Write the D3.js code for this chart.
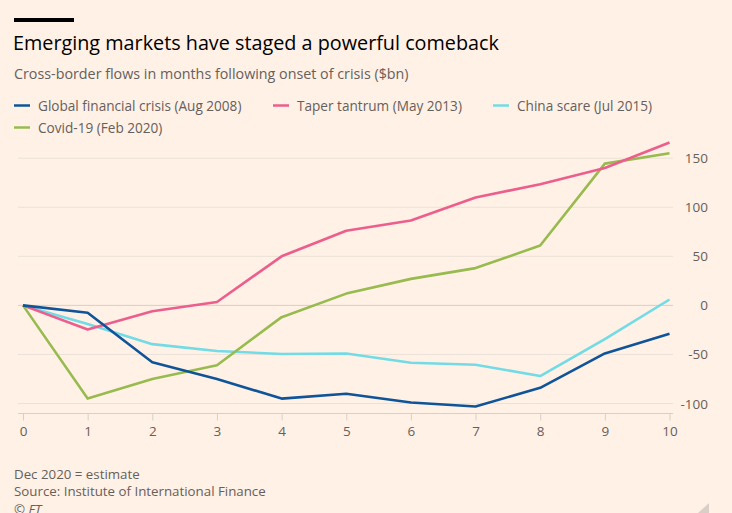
<!DOCTYPE html>
<html><head><meta charset="utf-8">
<script src="https://cdn.jsdelivr.net/npm/d3@7"></script>
<style>
html,body{margin:0;padding:0;background:#fff1e5;}
svg{display:block;}
</style></head>
<body>
<svg id="c" width="732" height="513"></svg>
<script>
const months = [0,1,2,3,4,5,6,7,8,9,10];
const gfc    = [0,-7.5,-58,-75,-95,-90,-99,-103,-84,-49,-29];
const taper  = [0,-24.5,-6,3.5,50,76,86.5,110,123.5,140,166];
const china  = [0,-19,-39.5,-46.5,-49.5,-49,-58.5,-60.5,-72,-34.5,6];
const covid  = [0,-95,-75,-61,-12,12,27,38,61,144.5,155];
const seriesNames = ["Global financial crisis (Aug 2008)","Taper tantrum (May 2013)","China scare (Jul 2015)","Covid-19 (Feb 2020)"];
const seriesColors = ["#0f5499","#eb5e8d","#72dbe6","#98bb4f"];
const yTicks = [-100,-50,0,50,100,150];
const xTicks = [0,1,2,3,4,5,6,7,8,9,10];

const svg = d3.select("#c");
const font = "'Open Sans', 'Noto Sans', sans-serif";

svg.append("rect").attr("x",0).attr("y",0).attr("width",732).attr("height",513).attr("fill","#fff1e5");
svg.append("rect").attr("x",14).attr("y",18).attr("width",60).attr("height",4).attr("fill","#000");
svg.append("text").attr("x",13).attr("y",50).text("Emerging markets have staged a powerful comeback")
  .attr("font-family",font).attr("font-size",19.8).attr("fill","#000");
svg.append("text").attr("x",14).attr("y",79).text("Cross-border flows in months following onset of crisis ($bn)")
  .attr("font-family",font).attr("font-size",14.3).attr("fill","#66605c");

const legendPos = [[14,106],[273,106],[493,106],[14,128]];
seriesNames.forEach((n,i)=>{
  const [lx,ly]=legendPos[i];
  svg.append("line").attr("x1",lx).attr("x2",lx+16).attr("y1",ly-0.5).attr("y2",ly-0.5)
    .attr("stroke",seriesColors[i]).attr("stroke-width",2.5);
  svg.append("text").attr("x",lx+24).attr("y",ly+5).text(n)
    .attr("font-family",font).attr("font-size",13.6).attr("fill","#66605c");
});

const x = d3.scaleLinear().domain([0,10]).range([23,669.5]);
const y = d3.scaleLinear().domain([-100,150]).range([403.5,158.2]);

const grid = svg.append("g");
yTicks.forEach(t=>{
  grid.append("line").attr("x1",18).attr("x2",673).attr("y1",y(t)).attr("y2",y(t))
    .attr("stroke", t===0 ? "#d9cfc6" : "#ebe1d8").attr("stroke-width",1);
  grid.append("text").attr("x",708).attr("y",y(t)+5).attr("text-anchor","end").text(t)
    .attr("font-family",font).attr("font-size",13.5).attr("fill","#66605c");
});

const xAxis = svg.append("g").attr("transform","translate(0,413.5)")
  .call(d3.axisBottom(x).tickValues(xTicks).tickSize(7).tickPadding(6).tickFormat(d3.format("d")));
xAxis.select(".domain").attr("d","M18,0H673").attr("stroke","#d9cfc6");
xAxis.selectAll(".tick line").attr("stroke","#d9cfc6");
xAxis.selectAll(".tick text").attr("font-family",font).attr("font-size",13.5).attr("fill","#66605c");

const line = d3.line().x((d,i)=>x(months[i])).y(d=>y(d));
const data = [gfc,taper,china,covid];
const order = [2,3,1,0];
order.forEach(i=>{
  svg.append("path").datum(data[i]).attr("d",line).attr("fill","none")
    .attr("stroke",seriesColors[i]).attr("stroke-width",2.6).attr("stroke-linejoin","round");
});

const foot = ["Dec 2020 = estimate","Source: Institute of International Finance","© FT"];
foot.forEach((t,i)=>{
  svg.append("text").attr("x",14).attr("y",479+i*17.3).text(t)
    .attr("font-family",font).attr("font-size",13.3).attr("fill","#66605c")
    .attr("font-style", i===2 ? "italic" : "normal");
});
svg.append("path").attr("d","M698,513L709,503L709,513Z").attr("fill","#d9cfc6");
</script>
</body></html>
